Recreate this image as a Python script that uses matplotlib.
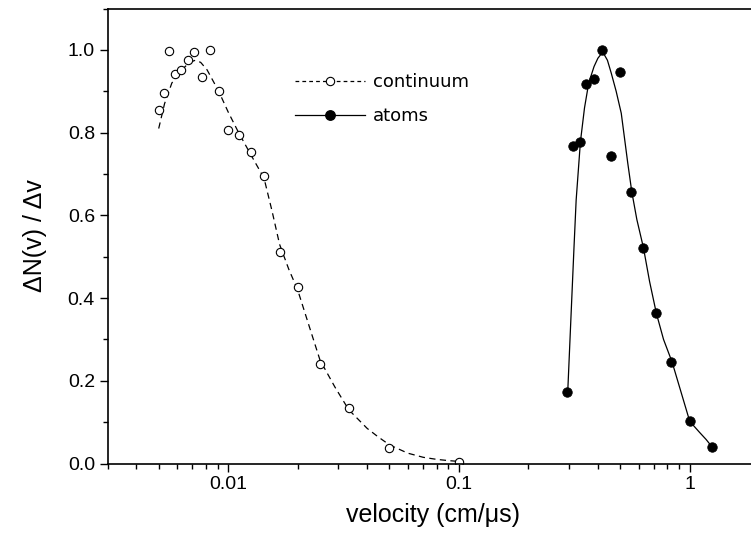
import matplotlib
matplotlib.use('Agg')
import matplotlib.pyplot as plt
from matplotlib.lines import Line2D
from matplotlib.ticker import LogLocator, FixedLocator, FixedFormatter, MultipleLocator, NullFormatter

# ---- data ----
cont_v = [0.00500, 0.00526, 0.00556, 0.00588, 0.00625, 0.00667, 0.00714, 0.00769, 0.00833, 0.00909,
          0.0100, 0.0111, 0.0125, 0.0143, 0.0167, 0.0200, 0.0250, 0.0333, 0.0500, 0.1000]
cont_n = [0.855, 0.897, 0.998, 0.941, 0.952, 0.976, 0.995, 0.935, 1.000, 0.901,
          0.807, 0.794, 0.753, 0.694, 0.512, 0.427, 0.240, 0.133, 0.037, 0.003]

cont_fit_v = [0.0050, 0.0053, 0.0057, 0.0063, 0.0068, 0.0072, 0.0076, 0.0081, 0.0091, 0.0100,
              0.0111, 0.0125, 0.0143, 0.0155, 0.0167, 0.0183, 0.0200, 0.0225, 0.0250, 0.0290,
              0.0333, 0.0400, 0.0445, 0.0500, 0.0600, 0.0700, 0.0800, 0.0900, 0.1000]
cont_fit_n = [0.810, 0.870, 0.920, 0.952, 0.970, 0.975, 0.970, 0.952, 0.900, 0.850,
              0.800, 0.748, 0.690, 0.610, 0.530, 0.470, 0.420, 0.330, 0.250, 0.185,
              0.130, 0.085, 0.065, 0.045, 0.025, 0.015, 0.010, 0.007, 0.005]

atom_v = [0.294, 0.3125, 0.333, 0.357, 0.385, 0.417, 0.455, 0.500, 0.556, 0.625, 0.714, 0.833, 1.000, 1.250]
atom_n = [0.172, 0.768, 0.778, 0.918, 0.930, 1.000, 0.743, 0.946, 0.657, 0.522, 0.363, 0.245, 0.102, 0.040]

atom_fit_v = [0.296, 0.305, 0.315, 0.322, 0.336, 0.350, 0.365, 0.385, 0.400, 0.420, 0.440, 0.457,
              0.480, 0.505, 0.539, 0.561, 0.590, 0.630, 0.670, 0.717, 0.770, 0.839, 0.920, 1.000,
              1.100, 1.178, 1.250]
atom_fit_n = [0.172, 0.340, 0.520, 0.637, 0.778, 0.860, 0.920, 0.960, 0.980, 0.995, 0.975, 0.944,
              0.900, 0.847, 0.726, 0.657, 0.590, 0.522, 0.440, 0.363, 0.300, 0.245, 0.170, 0.102,
              0.076, 0.058, 0.040]

x_ticks = [0.01, 0.1, 1]
x_tick_labels = ['0.01', '0.1', '1']
series_labels = ['continuum', 'atoms']

# ---- figure ----
plt.rcParams['font.family'] = ['Liberation Sans', 'DejaVu Sans']
W, H = 751, 540
fig = plt.figure(figsize=(W / 100, H / 100), dpi=100)

left_px, bottom_px = 107.5, 463.5
ax_w_px = 651.7
ax_h_px = 454.9
ax = fig.add_axes([left_px / W, (H - bottom_px) / H, ax_w_px / W, ax_h_px / H])

ax.set_xscale('log')
ax.set_xlim(0.003, 2.0)
ax.set_ylim(0, 1.1)

ax.plot(cont_fit_v, cont_fit_n, color='black', lw=0.9, ls=(0, (5, 3.5)))
ax.plot(cont_v, cont_n, ls='none', marker='o', ms=6, mfc='white', mec='black', mew=0.8)
ax.plot(atom_fit_v, atom_fit_n, color='black', lw=0.9)
ax.plot(atom_v, atom_n, ls='none', marker='o', ms=6.8, mfc='black', mec='black', mew=0.6)

ax.xaxis.set_major_locator(FixedLocator(x_ticks))
ax.xaxis.set_major_formatter(FixedFormatter(x_tick_labels))
ax.xaxis.set_minor_locator(LogLocator(base=10, subs=[2, 3, 4, 5, 6, 7, 8, 9]))
ax.xaxis.set_minor_formatter(NullFormatter())
ax.yaxis.set_major_locator(MultipleLocator(0.2))
ax.yaxis.set_minor_locator(MultipleLocator(0.1))
ax.yaxis.set_major_formatter(matplotlib.ticker.FormatStrFormatter('%.1f'))

ax.tick_params(which='major', direction='out', length=6, width=1.0, labelsize=14, pad=3)
ax.tick_params(which='minor', direction='out', length=3.5, width=1.0)
ax.tick_params(top=False, right=False, which='both')
for s in ax.spines.values():
    s.set_linewidth(1.2)

ax.set_xlabel('velocity (cm/\u03bcs)', fontsize=18, labelpad=7)
ax.set_ylabel('\u0394N(v) / \u0394v', fontsize=18, labelpad=15)

handles = [
    Line2D([], [], color='black', lw=0.9, ls=(0, (3, 2.5)), marker='o', ms=6, mfc='white', mec='black', mew=0.8),
    Line2D([], [], color='black', lw=0.9, marker='o', ms=6.8, mfc='black', mec='black'),
]
leg = ax.legend(handles, series_labels, loc='upper left', bbox_to_anchor=(286 / W, 1 - 64 / H),
                bbox_transform=fig.transFigure, frameon=False, numpoints=1,
                handlelength=3.9, handletextpad=0.4, labelspacing=0.9, borderpad=0,
                prop={'family': ['DejaVu Sans'], 'size': 13})

fig.savefig('out.png', dpi=100)
